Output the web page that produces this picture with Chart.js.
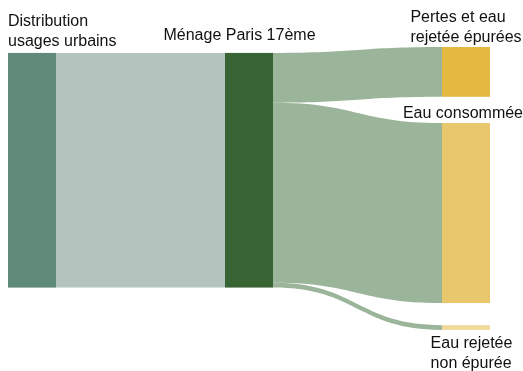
<!DOCTYPE html>
<html><head><meta charset="utf-8">
<script src="https://cdn.jsdelivr.net/npm/chart.js@4.4.1/dist/chart.umd.min.js"></script>
<style>html,body{margin:0;padding:0;background:#fff;overflow:hidden}</style>
</head><body>
<canvas id="c" width="523" height="371"></canvas>
<script>
// ---- data ----
const nodeLabels = [["Distribution","usages urbains"],["Ménage Paris 17ème"],["Pertes et eau","rejetée épurées"],["Eau consommée"],["Eau rejetée","non épurée"]];
const nodeColumns = [0, 1, 2, 2, 2];
const linkSources = [0, 1, 1, 1];
const linkTargets = [1, 2, 3, 4];
const linkValues = [99, 21, 76, 2];

// ---- style / layout ----
const nodeColors = ["#5f8a79", "#386332", "#e3b93f", "#e8c76d", "#f1d99b"];
const linkColors = ["#b2c4bd", "#9bb59a", "#9bb59a", "#9bb59a"];
const layout = {
  nodeWidth: 48,
  columnStart: [2.5, 2.5, 0],           // in value units
  columnGaps: [[], [], [11.05, 9.3]],   // in value units
  labelPos: ["above","above","above","above","below"],
  labelGap: [7, 13, 5, 5, 18],
  labelDx: [0, -9.5, 0, 0, 5.5],
  lineHeight: 20,
  font: "16px 'Liberation Sans', Arial, sans-serif"
};

const sankeyPlugin = {
  id: 'sankeyDraw',
  afterDatasetsDraw(chart) {
    const ctx = chart.ctx, xs = chart.scales.x, ys = chart.scales.y;
    const n = nodeLabels.length;
    const inSum = new Array(n).fill(0), outSum = new Array(n).fill(0);
    linkValues.forEach((v, i) => { outSum[linkSources[i]] += v; inSum[linkTargets[i]] += v; });
    const nodeVal = inSum.map((v, i) => Math.max(v, outSum[i]));
    const nodeY0 = new Array(n).fill(0);
    const colCursor = {}, colIdx = {};
    for (let i = 0; i < n; i++) {
      const c = nodeColumns[i];
      if (colCursor[c] === undefined) { colCursor[c] = layout.columnStart[c]; colIdx[c] = 0; }
      else { colCursor[c] += layout.columnGaps[c][colIdx[c] - 1] || 0; }
      nodeY0[i] = colCursor[c];
      colCursor[c] += nodeVal[i];
      colIdx[c]++;
    }
    const px = i => xs.getPixelForValue(nodeColumns[i]);
    const py = v => ys.getPixelForValue(v);
    const w = layout.nodeWidth;
    const outOff = new Array(n).fill(0), inOff = new Array(n).fill(0);
    linkValues.forEach((v, i) => {
      const s = linkSources[i], t = linkTargets[i];
      const x0 = px(s) + w, x1 = px(t);
      const sy0 = py(nodeY0[s] + outOff[s]), sy1 = py(nodeY0[s] + outOff[s] + v);
      const ty0 = py(nodeY0[t] + inOff[t]), ty1 = py(nodeY0[t] + inOff[t] + v);
      outOff[s] += v; inOff[t] += v;
      const xm = (x0 + x1) / 2;
      ctx.beginPath();
      ctx.moveTo(x0, sy0);
      ctx.bezierCurveTo(xm, sy0, xm, ty0, x1, ty0);
      ctx.lineTo(x1, ty1);
      ctx.bezierCurveTo(xm, ty1, xm, sy1, x0, sy1);
      ctx.closePath();
      ctx.fillStyle = linkColors[i];
      ctx.fill();
    });
    for (let i = 0; i < n; i++) {
      const y0 = py(nodeY0[i]), y1 = py(nodeY0[i] + nodeVal[i]);
      ctx.fillStyle = nodeColors[i];
      ctx.fillRect(px(i), y0, w, y1 - y0);
    }
    ctx.font = layout.font;
    ctx.fillStyle = "#111";
    ctx.textAlign = "left";
    ctx.textBaseline = "alphabetic";
    for (let i = 0; i < n; i++) {
      const lines = nodeLabels[i];
      const bw = Math.max(...lines.map(l => ctx.measureText(l).width));
      let left = px(i) + w / 2 - bw / 2 + layout.labelDx[i];
      left = Math.max(8, Math.min(left, chart.width - bw));
      const y0 = py(nodeY0[i]), y1 = py(nodeY0[i] + nodeVal[i]);
      let base;
      if (layout.labelPos[i] === "above") base = y0 - layout.labelGap[i] - (lines.length - 1) * layout.lineHeight;
      else base = y1 + layout.labelGap[i];
      lines.forEach((l, k) => ctx.fillText(l, left, base + k * layout.lineHeight));
    }
  }
};

new Chart(document.getElementById('c'), {
  type: 'scatter',
  data: { datasets: [{ data: [] }] },
  options: {
    responsive: false,
    animation: false,
    devicePixelRatio: 1,
    layout: { padding: { left: 8, right: 81, top: 47, bottom: 41 } },
    plugins: { legend: { display: false }, tooltip: { enabled: false } },
    scales: {
      x: { type: 'linear', min: 0, max: 2, display: false },
      y: { type: 'linear', min: 0, max: 119.4, reverse: true, display: false }
    }
  },
  plugins: [sankeyPlugin]
});
</script>
</body></html>
